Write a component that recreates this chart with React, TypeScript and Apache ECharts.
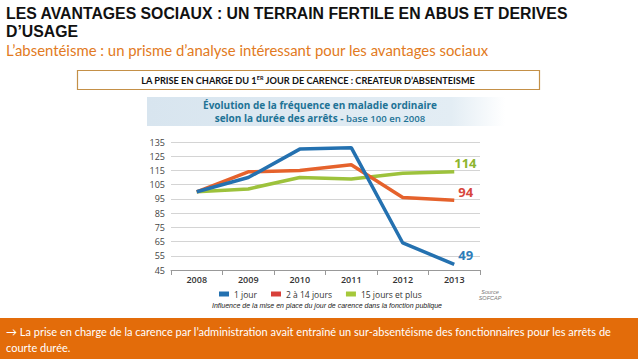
import React, { useEffect, useRef } from "react";
import * as echarts from "echarts";

const years = ["2008", "2009", "2010", "2011", "2012", "2013"];
const oneDay = [100, 110, 130, 131, 64, 49];
const twoTo14 = [100, 114, 115, 119, 96, 94];
const fifteenPlus = [100, 102, 110, 109, 113, 114];
const yBase = 45; // axis starts at 45, ticks every 10 up to 135

const seriesNames = ["1 jour", "2 à 14 jours", "15 jours et plus"];

export default function App() {
  const ref = useRef<HTMLDivElement>(null);
  useEffect(() => {
    document.body.style.margin = "0";
    const chart = echarts.init(ref.current!, undefined, { renderer: "svg" });
    const shift = (a: number[]) => a.map((v) => v - yBase);
    const lineSeries = (name: string, data: number[], color: string, labelColor: string, off: number[]) => ({
      name,
      type: "line",
      data: shift(data),
      symbol: "none",
      lineStyle: { width: 3.5, color },
      itemStyle: { color },
      endLabel: {
        show: true,
        formatter: () => String(data[data.length - 1]),
        color: labelColor,
        fontSize: 13,
        fontWeight: "bold",
        fontFamily: "Open Sans",
        offset: off,
      },
    });
    chart.setOption({
      animation: false,
      backgroundColor: "#ffffff",
      grid: { left: 171, right: 158, top: 142, bottom: 89 },
      xAxis: {
        type: "category",
        data: years,
        boundaryGap: true,
        axisLine: { lineStyle: { color: "#999", width: 1 } },
        axisTick: { show: true, length: 5, lineStyle: { color: "#999" } },
        axisLabel: { color: "#333", fontSize: 9, fontWeight: 600, fontFamily: "Open Sans", margin: 5 },
      },
      yAxis: {
        type: "value",
        min: 0,
        max: 90,
        interval: 10,
        axisLine: { show: false },
        axisTick: { show: false },
        axisLabel: {
          color: "#444",
          fontSize: 9,
          fontFamily: "Open Sans",
          margin: 6,
          formatter: (v: number) => String(v + yBase),
        },
        splitLine: { lineStyle: { color: "#d4d4d4", width: 1 } },
      },
      legend: {
        left: 219,
        top: 289,
        padding: 0,
        itemWidth: 10,
        itemHeight: 5,
        itemGap: 14,
        icon: "rect",
        textStyle: { fontSize: 8.5, color: "#333", fontFamily: "Open Sans", lineHeight: 10 },
        data: [
          { name: seriesNames[0], itemStyle: { color: "#2471B0" } },
          { name: seriesNames[1], itemStyle: { color: "#D8403A" } },
          { name: seriesNames[2], itemStyle: { color: "#A5C83A" } },
        ],
      },
      series: [
        lineSeries(seriesNames[2], fifteenPlus, "#9DC23C", "#8DB52E", [-8, -9]),
        lineSeries(seriesNames[1], twoTo14, "#E5622C", "#D8463C", [-4, -8]),
        lineSeries(seriesNames[0], oneDay, "#2471B0", "#2E7DBA", [-4, -9]),
      ],
      graphic: [
        {
          type: "text",
          left: 6,
          top: 4,
          style: {
            text: "LES AVANTAGES SOCIAUX : UN TERRAIN FERTILE EN ABUS ET DERIVES\nD\u2019USAGE",
            font: "bold 15.8px 'Liberation Sans', Arial, sans-serif",
            lineHeight: 18,
            fill: "#111",
          },
        },
        {
          type: "text",
          left: 6,
          top: 42,
          style: {
            text: "L\u2019absentéisme : un prisme d\u2019analyse intéressant pour les avantages sociaux",
            font: "14.9px Lato, sans-serif",
            fill: "#E27A22",
          },
        },
        {
          type: "rect",
          shape: { x: 77.5, y: 70.5, width: 462, height: 19 },
          style: { fill: "#fff", stroke: "#C49048", lineWidth: 1.2 },
        },
        {
          type: "text",
          x: 308,
          y: 80,
          style: {
            text: "{a|LA PRISE EN CHARGE DU 1}{s|ER}{a| JOUR DE CARENCE : CREATEUR D\u2019ABSENTEISME}",
            align: "center",
            verticalAlign: "middle",
            rich: {
              a: { font: "bold 9.2px Lato, sans-serif", fill: "#111" },
              s: { font: "bold 5.5px Lato, sans-serif", fill: "#111", verticalAlign: "top", padding: [0, 0, 4, 0] },
            },
          },
        },
        {
          type: "rect",
          z: -1,
          shape: { x: 147, y: 97, width: 358, height: 29 },
          style: {
            fill: new echarts.graphic.LinearGradient(0, 0, 1, 0, [
              { offset: 0, color: "#d8e5ef" },
              { offset: 0.85, color: "#e3edf4" },
              { offset: 1, color: "#ffffff" },
            ]),
          },
        },
        {
          type: "text",
          x: 320,
          y: 105,
          style: {
            text: "Évolution de la fréquence en maladie ordinaire",
            align: "center",
            verticalAlign: "middle",
            font: "bold 10px 'Open Sans', sans-serif",
            fill: "#1E7396",
          },
        },
        {
          type: "text",
          x: 320,
          y: 118,
          style: {
            text: "selon la durée des arrêts - {n|base 100 en 2008}",
            align: "center",
            verticalAlign: "middle",
            font: "bold 10px 'Open Sans', sans-serif",
            fill: "#1E7396",
            rich: {
              n: { font: "600 9.6px 'Open Sans', sans-serif", fill: "#1E7396" },
            },
          },
        },
        {
          type: "text",
          x: 327,
          y: 305,
          style: {
            text: "Influence de la mise en place du jour de carence dans la fonction publique",
            align: "center",
            verticalAlign: "middle",
            font: "italic 7px 'Liberation Sans', Arial, sans-serif",
            fill: "#222",
          },
        },
        {
          type: "text",
          x: 490,
          y: 295,
          style: {
            text: "Source\nSOFCAP",
            align: "center",
            verticalAlign: "middle",
            font: "italic 5.5px 'Liberation Sans', Arial, sans-serif",
            lineHeight: 6,
            fill: "#777",
          },
        },
        {
          type: "rect",
          shape: { x: 0, y: 318, width: 638, height: 41 },
          style: { fill: "#E36C0A" },
        },
        {
          type: "text",
          left: 6,
          top: 323,
          style: {
            text: "\u2192 La prise en charge de la carence par l\u2019administration avait entraîné un sur-absentéisme des fonctionnaires pour les arrêts de\ncourte durée.",
            font: "11px Lato, sans-serif",
            lineHeight: 16,
            fill: "#ffffff",
          },
        },
      ],
    });
    return () => chart.dispose();
  }, []);
  return <div ref={ref} style={{ position: "absolute", left: 0, top: 0, width: 638, height: 359 }} />;
}
